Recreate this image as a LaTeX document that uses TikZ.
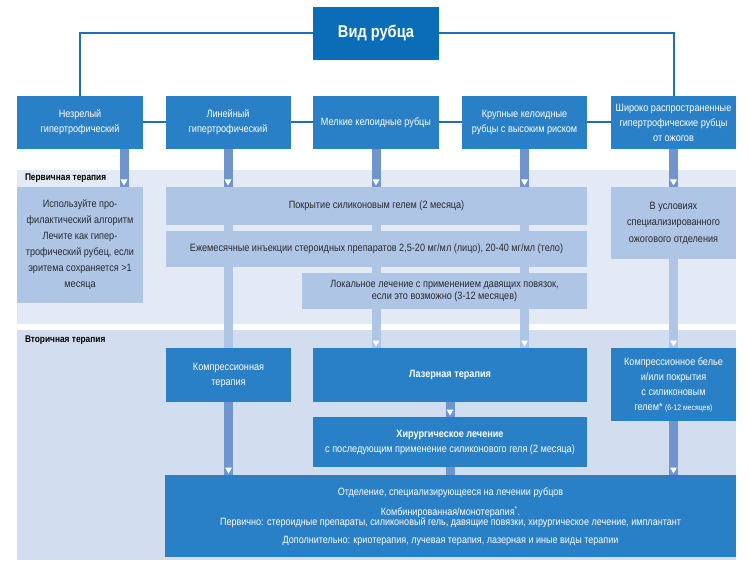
\documentclass[tikz,border=0pt]{standalone}
\usepackage{fontspec}
\setmainfont{Liberation Sans}[FakeStretch=0.86]
\usetikzlibrary{calc}
\definecolor{titleblue}{HTML}{0B6DB8}
\definecolor{hdrblue}{HTML}{2A80C6}
\definecolor{lineblue}{HTML}{1E6FB5}
\definecolor{bandA}{HTML}{E3EAF6}
\definecolor{bandB}{HTML}{D2DEF0}
\definecolor{lightbox}{HTML}{AEC5E6}
\definecolor{stemdark}{HTML}{6F95CC}
\definecolor{txtdark}{HTML}{2A2A2A}
\newcommand\downtri[1]{\fill[white] ($(#1)+(-3.5,-7.5)$) -- ($(#1)+(3.5,-7.5)$) -- ($(#1)+(0,-1.5)$) -- cycle;}
\begin{document}
\begin{tikzpicture}[x=1pt,y=-1pt,
  every node/.style={inner sep=0pt, outer sep=0pt, font=\fontsize{10.6}{15}\selectfont},
  sz/.style 2 args={minimum width=#1, minimum height=#2},
  bluebox/.style={rectangle, fill=hdrblue, text=white, align=center},
  lbox/.style={rectangle, fill=lightbox, text=txtdark, align=center},
  conn/.style={draw=lineblue, line width=2pt},
  dstem/.style={draw=stemdark, line width=9pt},
  lstem/.style={draw=lightbox, line width=9pt},
  bandlabel/.style={font=\bfseries\fontsize{9.7}{10}\selectfont, text=black, anchor=west},
  bottomtxt/.style={text=white, font=\fontsize{10.5}{11}\selectfont},
]
\useasboundingbox (0,0) rectangle (750,567);
\fill[white] (0,0) rectangle (750,567);

% bands
\fill[bandA] (17,170) rectangle (736,324);
\fill[bandB] (17,330) rectangle (736,560);
\node[bandlabel] (lab1) at (25,178) {Первичная терапия};
\node[bandlabel] (lab2) at (25,340) {Вторичная терапия};

% title and headers
\node[rectangle, fill=titleblue, text=white, sz={126}{53}, font=\bfseries\fontsize{17}{20}\selectfont] (title) at (376,33.5) {Вид рубца};
\node[bluebox, sz={126}{53}] (h1) at (80,122.5) {Незрелый\\гипертрофический};
\node[bluebox, sz={125}{53}] (h2) at (228,122.5) {Линейный\\гипертрофический};
\node[bluebox, sz={126}{53}] (h3) at (376,122.5) {Мелкие келоидные рубцы};
\node[bluebox, sz={125}{53}] (h4) at (524.5,122.5) {Крупные келоидные\\рубцы с высоким риском};
\node[bluebox, sz={125}{53}] (h5) at (673.5,122.5) {Широко распространенные\\гипертрофические рубцы\\от ожогов};

\draw[conn] (title.west) -| (h1.north);
\draw[conn] (title.east) -| (h5.north);
\draw[conn] (h1.east) -- (h2.west);
\draw[conn] (h2.east) -- (h3.west);
\draw[conn] (h3.east) -- (h4.west);
\draw[conn] (h4.east) -- (h5.west);

\coordinate (hs1) at (124,149);

% light stems (behind boxes)
\coordinate (ptop) at (0,187);
\coordinate (stop) at (0,348);
\draw[lstem] (h2.south |- ptop) -- (h2.south |- stop);
\draw[lstem] (h3.south |- ptop) -- (h3.south |- stop);
\draw[lstem] (h4.south |- ptop) -- (h4.south |- stop);
\draw[lstem] (h5.south |- ptop) -- (h5.south |- stop);

% primary boxes
\node[lbox, sz={126}{116}, font=\fontsize{10.6}{16}\selectfont] (pl) at (80,245) {Используйте про-\\филактический алгоритм\\Лечите как гипер-\\трофический рубец, если\\эритема сохраняется >1\\месяца};
\node[lbox, sz={421}{38}] (psil) at (376.5,206) {Покрытие силиконовым гелем (2 месяца)};
\node[lbox, sz={421}{36}] (pinj) at (376.5,249) {Ежемесячные инъекции стероидных препаратов 2,5-20 мг/мл (лицо), 20-40 мг/мл (тело)};
\node[lbox, sz={285}{36}, font=\fontsize{10.6}{12.5}\selectfont] (ploc) at (444.5,291) {Локальное лечение с применением давящих повязок,\\если это возможно (3-12 месяцев)};
\node[lbox, sz={125}{72}, font=\fontsize{10.6}{16.5}\selectfont] (pburn) at (673.5,223) {В условиях\\специализированного\\ожогового отделения};

% header stems (dark)
\draw[dstem] (hs1) -- (hs1 |- pl.north);
\draw[dstem] (h2.south) -- (h2.south |- psil.north);
\draw[dstem] (h3.south) -- (h3.south |- psil.north);
\draw[dstem] (h4.south) -- (h4.south |- psil.north);
\draw[dstem] (h5.south) -- (h5.south |- pburn.north);
\downtri{hs1 |- pl.north}
\downtri{h2.south |- psil.north}
\downtri{h3.south |- psil.north}
\downtri{h4.south |- psil.north}
\downtri{h5.south |- pburn.north}

% secondary boxes
\node[bluebox, sz={125}{54}] (scomp) at (228.5,375) {Компрессионная\\терапия};
\node[bluebox, sz={274}{54}, font=\bfseries\fontsize{10.6}{15}\selectfont] (slaser) at (450,375) {Лазерная терапия};
\node[bluebox, sz={274}{50}] (ssurg) at (450,442) {\textbf{Хирургическое лечение}\\с последующим применение силиконового геля (2 месяца)};
\node[bluebox, sz={125}{73}] (sright) at (673.5,384.5) {Компрессионное белье\\и/или покрытия\\с силиконовым\\гелем* {\fontsize{8}{9}\selectfont(6-12 месяцев)}};

\downtri{h3.south |- slaser.north}
\downtri{h4.south |- slaser.north}
\downtri{h5.south |- sright.north}

% bottom box
\node[rectangle, fill=hdrblue, sz={571}{82}] (bot) at (450.5,516) {};
\node[bottomtxt] (b1) at (450.5,493) {Отделение, специализирующееся на лечении рубцов};
\node[bottomtxt] (b2) at (450.5,512) {Комбинированная/монотерапия\textsuperscript{*}.};
\node[bottomtxt] (b3) at (450.5,523) {Первично: стероидные препараты, силиконовый гель, давящие повязки, хирургическое лечение, имплантант};
\node[bottomtxt] (b4) at (450.5,541) {Дополнительно: криотерапия, лучевая терапия, лазерная и иные виды терапии};

% secondary stems (dark)
\draw[dstem] (scomp.south) -- (scomp.south |- bot.north);
\draw[dstem] (slaser.south) -- (ssurg.north);
\draw[dstem] (ssurg.south) -- (ssurg.south |- bot.north);
\draw[dstem] (sright.south) -- (sright.south |- bot.north);
\downtri{scomp.south |- bot.north}
\downtri{ssurg.north}
\downtri{sright.south |- bot.north}
\end{tikzpicture}
\end{document}
